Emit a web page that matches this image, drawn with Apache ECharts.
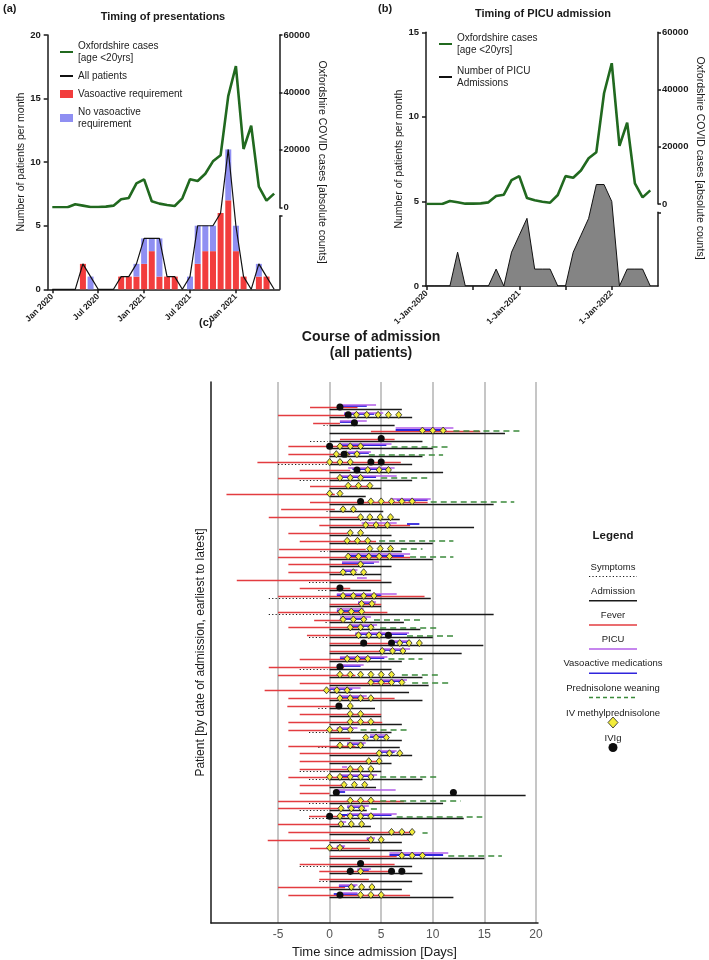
<!DOCTYPE html>
<html>
<head>
<meta charset="utf-8">
<title>Timing and course of admission</title>
<script src="https://cdn.jsdelivr.net/npm/echarts@6.0.0/dist/echarts.min.js"></script>
<style>
  html, body { margin: 0; padding: 0; background: #fff; }
  #chart { width: 709px; height: 960px; }
</style>
</head>
<body>
<div id="chart"></div>
<script>
const FONT = '"Liberation Sans", Arial, Helvetica, sans-serif';

// (a) and (b): one value per month, Jan 2020 .. Jun 2022
const months = ['2020-01', '2020-02', '2020-03', '2020-04', '2020-05', '2020-06', '2020-07', '2020-08', '2020-09', '2020-10',
  '2020-11', '2020-12', '2021-01', '2021-02', '2021-03', '2021-04', '2021-05', '2021-06', '2021-07', '2021-08',
  '2021-09', '2021-10', '2021-11', '2021-12', '2022-01', '2022-02', '2022-03', '2022-04', '2022-05', '2022-06'];
const oxfordshireCases = [0, 0, 0, 1040, 580, 120, 120, 230, 580, 2780, 3250, 8350, 9740, 2090, 1280, 810, 460, 3130, 9740, 9160, 11700, 16000, 18100, 38700, 49200, 20300, 28400, 7190, 2320, 4760];
const vasoactive =     [0, 0, 0, 0, 2, 0, 0, 0, 0, 1, 1, 1, 2, 3, 1, 1, 1, 0, 0, 2, 3, 3, 6, 7, 3, 1, 0, 1, 1, 0];
const noVasoactive =   [0, 0, 0, 0, 0, 1, 0, 0, 0, 0, 0, 1, 2, 1, 3, 0, 0, 0, 1, 3, 2, 2, 0, 4, 2, 0, 0, 1, 0, 0];
const allPatients =    [0, 0, 0, 0, 2, 1, 0, 0, 0, 1, 1, 2, 4, 4, 4, 1, 1, 0, 1, 5, 5, 5, 6, 11, 5, 1, 0, 2, 1, 0];
const picuAdmissions = [0, 0, 0, 0, 2, 0, 0, 0, 0, 1, 0, 2, 3, 4, 1, 1, 1, 0, 0, 2, 3, 4, 6, 6, 5, 0, 1, 1, 1, 0];
const monthTicks = [0, 6, 12, 18, 24];
const tickLabelsA = ['Jan 2020', 'Jul 2020', 'Jan 2021', 'Jul 2021', 'Jan 2021'];
const tickLabelsB = ['1-Jan-2020', '1-Jan-2021', '1-Jan-2022'];

// (c): one entry per patient, earliest admission first. days relative to admission
const dayTicks = [-5, 0, 5, 10, 15, 20];
const symptomStart = [
  null, null, -0.6, null, -1.9, null, null, -5.0, null, -2.9,
  null, null, null, -0.3, null, null, null, null, -0.9, null,
  null, null, -2.0, -1.1, -5.9, null, -5.9, -0.4, null, -2.0,
  null, null, null, -2.9, null, null, null, null, -1.1, null,
  null, -2.0, null, -1.1, null, null, -2.9, -2.0, null, null,
  -2.0, -2.9, -2.0, null, null, null, null, null, -2.9, null,
  -1.0, null, null
];
const fever = [
  [-1.9, 2.7], [-5.0, 1.5], [-1.6, 1.0], [4.0, 14.6], [1.0, 6.3], [-4.0, 2.8], [-4.0, 2.0], [-7.0, 6.9], [-2.9, 2.0], [-5.0, 1.0],
  [-1.9, 4.1], [-10.0, 0.5], [-1.9, 9.5], [-4.7, 0.5], [-5.9, 2.8], [-1.0, 7.8], [-4.0, 1.7], [-2.9, 4.5], [-4.9, 3.5], [-5.0, 7.8],
  [-4.0, 2.7], [-4.0, 1.0], [-9.0, 5.0], [-2.9, 2.0], [-5.0, 9.2], [0, 5.0], [-5.0, 5.6], [-1.5, 1.3], [-4.0, 2.7], [-2.2, 2.7],
  [0, 6.0], [0, 4.9], [-2.9, 3.8], [-5.9, 1.4], [-5.0, 2.5], [-2.9, 5.9], [-6.3, 0.1], [-4.0, 6.3], [-4.1, 0.7], [-2.9, 5.0],
  [-4.0, 5.1], [-4.0, 1.0], [0, 2.0], [-4.0, 2.5], [-2.9, 4.9], [-2.9, 4.5], [-2.9, 3.0], [-4.0, 2.0], [-2.9, 1.3], [-2.9, 0],
  [-5.0, 7.2], [-5.0, 1.0], [-2.0, 1.5], [-5.0, 1.0], [-4.0, 8.0], [-6.0, 4.0], [-1.9, 3.9], [0, 6.5], [-2.9, 6.3], [-1.0, 6.0],
  [-1.0, 3.8], [-5.0, 1.5], [-4.0, 7.8]
];
const admissionEnd = [
  7.0, 8.0, 6.3, 17.0, 9.0, 10.0, 9.0, 8.0, 11.0, 8.0,
  5.0, 3.5, 15.9, 5.2, 6.8, 14.0, 6.0, 10.0, 7.0, 10.0,
  6.0, 5.0, 6.0, 4.0, 9.8, 5.0, 15.9, 7.2, 8.8, 10.0,
  14.9, 12.8, 7.0, 6.0, 9.0, 9.6, 7.7, 9.0, 4.4, 5.0,
  7.0, 6.0, 7.0, 6.8, 8.0, 6.0, 5.0, 9.0, 4.5, 19.0,
  11.0, 3.6, 13.0, 4.0, 8.0, 7.0, 7.0, 15.0, 8.0, 9.0,
  8.0, 7.0, 12.0
];
const picuStay = [
  [1.0, 4.5], [1.4, 5.2], [1.0, 3.6], [6.4, 12.0], null, [0.9, 6.0], [1.8, 4.0], null, [1.8, 6.3], [1.0, 6.5],
  null, null, [5.9, 9.8], null, null, [3.1, 6.5], null, null, null, [1.7, 7.8],
  [1.2, 4.8], [1.2, 2.7], [2.65, 3.6], null, [0.7, 6.5], [2.75, 4.5], [0.7, 3.3], [1.0, 4.0], [2.0, 4.6], [2.5, 7.7],
  [6.0, 7.8], [4.9, 7.8], [1.0, 5.6], [0.7, 3.3], null, [3.8, 7.5], [0, 3.0], [1.0, 3.6], null, null,
  null, [0.7, 2.7], [3.9, 5.6], [1.7, 3.5], [4.9, 6.5], null, [1.2, 1.7], [1.0, 4.6], null, [0.7, 6.4],
  null, [1.7, 3.8], [1.7, 6.5], [1.0, 1.6], null, [3.6, 4.4], [0.7, 1.5], [5.8, 11.5], null, [2.7, 4.0],
  null, [0.9, 2.7], [1.0, 2.7]
];
const vasoactiveMeds = [
  [1.0, 3.6], [1.4, 4.3], [1.0, 2.7], [6.4, 11.3], null, [0.9, 5.5], [1.3, 3.8], null, [2.2, 5.6], [1.0, 4.5],
  null, null, [6.5, 9.5], null, null, [7.5, 8.7], null, null, null, [1.7, 7.2],
  [1.2, 4.3], [1.2, 2.3], null, null, [0.7, 5.0], [2.75, 4.1], [0.7, 3.0], [1.0, 3.6], [2.0, 4.3], [2.5, 7.5],
  [6.0, 7.6], [4.9, 7.3], [1.0, 5.3], [0.7, 3.0], null, [3.8, 7.2], [0, 2.2], [1.0, 3.3], null, null,
  null, [0.7, 2.0], [3.9, 5.4], [1.7, 3.3], [4.9, 6.3], null, null, [1.0, 4.3], null, [0.7, 1.5],
  null, [1.7, 3.4], [1.0, 6.0], null, null, [3.6, 4.2], [0.7, 1.4], [5.8, 11.0], null, [2.7, 3.8],
  null, [0.9, 2.5], [0.4, 2.7]
];
const prednisolone = [
  null, null, null, [12.0, 18.7], null, [6.0, 11.7], [3.8, 11.0], null, null, [5.0, 9.8],
  null, null, [9.8, 17.9], null, null, null, null, [4.8, 12.0], [6.9, 9.0], [7.8, 12.0],
  null, null, null, null, null, null, null, [4.3, 8.8], [4.9, 10.6], [7.5, 12.0],
  null, null, [5.7, 9.0], null, [7.0, 10.6], [8.0, 11.6], null, null, null, null,
  null, [3.0, 7.7], null, null, null, null, null, [4.9, 10.6], null, null,
  [4.9, 12.7], [4.0, 4.6], [6.5, 14.8], null, [9.0, 9.5], null, null, [11.5, 16.7], null, null,
  null, null, null
];
const methylpred = [
  [], [2.6, 3.6, 4.7, 5.7, 6.7], [], [9, 10, 11], [], [1, 2, 3], [0.65, 1.6, 2.65], [0, 1, 2], [3.7, 4.8, 5.7], [1, 2, 3],
  [1.8, 2.8, 3.9], [0, 1], [4, 5, 6, 7, 8], [1.3, 2.3], [3, 3.9, 4.9, 5.9], [3.5, 4.5, 5.6], [2, 3], [1.7, 2.7, 3.7], [3.9, 4.9, 5.9], [1.8, 2.8, 3.8, 4.8, 5.8],
  [3], [1.3, 2.3, 3.3], [], [], [1.3, 2.3, 3.3, 4.3], [3.1, 4.1], [1.1, 2.1, 3.1], [1.3, 2.3, 3.3], [2, 3, 4], [2.8, 3.8, 4.8],
  [6.8, 7.7, 8.7], [5.1, 6.1, 7.1], [1.7, 2.7, 3.7], [], [1, 2, 3, 4, 5, 6], [4, 5, 6, 7], [-0.3, 0.7, 1.7], [1, 2, 3, 4], [2], [2, 3],
  [2, 3, 4], [0, 1, 2], [3.5, 4.5, 5.5], [1, 2, 3], [4.8, 5.8, 6.8], [3.8, 4.8], [2, 3, 4], [0, 1, 2, 3, 4], [1.4, 2.4, 3.4], [],
  [2, 3, 4], [1.1, 2.1, 3.1], [1, 2, 3, 4], [1.1, 2.1, 3.1], [6, 7, 8], [4, 5], [0, 1], [7, 8, 9], [], [2, 3],
  [], [2.1, 3.1, 4.1], [3, 4, 5]
];
const ivig = [
  [1.0], [1.8], [2.4], [], [5.0], [0], [1.4], [4, 5], [2.65], [],
  [], [], [3], [], [], [], [], [], [], [],
  [], [], [], [1], [], [], [], [], [], [5.7],
  [3.3, 6.0], [], [], [1], [], [], [], [], [0.9], [],
  [], [], [], [], [], [], [], [], [], [0.65, 12],
  [], [], [0], [], [], [], [], [], [3], [2, 6, 7],
  [], [], [1]
];

const RED = '#e33c40';
const PURPLE = '#b35ee8';
const BLUE = '#3024dc';
const GREEN_DASH = '#3b8a3b';
const YELLOW = '#f2ec3a';
const CASE_GREEN = '#21691f';

const CASES = 'Oxfordshire cases\n[age <20yrs]';
const NO_VASO = 'No vasoactive\nrequirement';
const PICU_NAME = 'Number of PICU\nAdmissions';

const pairs = arr => arr.map((v, i) => [i, v]);

function segments(ranges, offset) {
  const out = [];
  ranges.forEach((r, i) => {
    if (r) out.push({ coords: [[r[0], i + offset], [r[1], i + offset]] });
  });
  return out;
}
function points(lists, offset) {
  const out = [];
  lists.forEach((days, i) => days.forEach(d => out.push([d, i + offset])));
  return out;
}

const boldTick = { fontFamily: FONT, fontSize: 9.5, fontWeight: 'bold', color: '#1a1a1a' };
const boldTickX = { fontFamily: FONT, fontSize: 8.5, fontWeight: 'bold', color: '#1a1a1a' };
const axisLineBlack = { show: true, onZero: false, lineStyle: { color: '#1a1a1a', width: 1.5 } };
const tickBlack = { color: '#1a1a1a', width: 1.5 };
const nameStyle = { fontFamily: FONT, fontSize: 10.5, color: '#1a1a1a' };

function hiddenX(grid, min, max) {
  return { type: 'value', gridIndex: grid, min: min, max: max, show: false };
}
function casesAxis(grid) {
  return {
    type: 'value', gridIndex: grid, position: 'right', min: 0, max: 60000, interval: 20000,
    axisLine: axisLineBlack,
    axisTick: { show: true, length: 3, lineStyle: tickBlack },
    axisLabel: Object.assign({ margin: 4, formatter: v => String(v) }, boldTick),
    splitLine: { show: false }
  };
}
function brokenAxis(grid) {
  return {
    type: 'value', gridIndex: grid, position: 'right', min: 0, max: 1,
    axisLine: axisLineBlack,
    axisTick: { show: true, customValues: [1], length: 3, lineStyle: tickBlack },
    axisLabel: { show: false },
    splitLine: { show: false }
  };
}
function patientsAxis(grid, max, gap) {
  return {
    type: 'value', gridIndex: grid, min: 0, max: max, interval: 5,
    axisLine: axisLineBlack,
    axisTick: { show: true, length: 4, lineStyle: tickBlack },
    axisLabel: Object.assign({ margin: 7 }, boldTick),
    splitLine: { show: false },
    name: 'Number of patients per month', nameLocation: 'middle', nameGap: gap,
    nameTextStyle: nameStyle
  };
}

function segSeries(name, data, color, width, type, z) {
  return {
    name: name, type: 'lines', coordinateSystem: 'cartesian2d', xAxisIndex: 6, yAxisIndex: 6,
    polyline: false, silent: true, z: z,
    lineStyle: { color: color, width: width, type: type, opacity: 1, cap: 'butt' },
    data: data
  };
}

const grids = [
  { left: 47.7, top: 35, width: 231.8, height: 254.3 },
  { left: 47.7, top: 35, width: 231.8, height: 172.3 },
  { left: 47.7, top: 216, width: 231.8, height: 73.3 },
  { left: 426, top: 32.3, width: 232, height: 253.7 },
  { left: 426, top: 32.3, width: 232, height: 171.7 },
  { left: 426, top: 212.3, width: 232, height: 73.7 },
  { left: 211, top: 382, width: 327, height: 541 },
  // category band grid for the stacked bars of (a): one band per month
  { left: 48.5, top: 35, width: 229.5, height: 254.3 }
].map(g => Object.assign({ containLabel: false, outerBoundsMode: 'none' }, g));

const legendText = { fontFamily: FONT, fontSize: 10, lineHeight: 12, color: '#222' };
const noMarker = { color: 'rgba(0,0,0,0)', borderColor: 'rgba(0,0,0,0)', borderWidth: 0 };

// legend of panel (c): text above, sample below
const legendC = [
  { label: 'Symptoms', color: '#1a1a1a', width: 1.2, dash: [1.2, 2.2] },
  { label: 'Admission', color: '#1a1a1a', width: 1.5, dash: null },
  { label: 'Fever', color: RED, width: 1.5, dash: null },
  { label: 'PICU', color: PURPLE, width: 1.5, dash: null },
  { label: 'Vasoactive medications', color: BLUE, width: 1.5, dash: null },
  { label: 'Prednisolone weaning', color: GREEN_DASH, width: 1.5, dash: [4, 3] }
];
const graphics = [];
function addText(text, x, y, size, weight, rot) {
  graphics.push({
    type: 'text', x: x, y: y, rotation: rot || 0, silent: true,
    style: { text: text, fontFamily: FONT, fontSize: size, fontWeight: weight || 'normal', fill: '#1a1a1a', align: 'center', verticalAlign: 'middle' }
  });
}
addText('Legend', 613, 536, 11.5, 'bold');
legendC.forEach((it, k) => {
  const ty = 567 + 24.2 * k;
  addText(it.label, 613, ty, 9.5);
  graphics.push({
    type: 'line', silent: true,
    shape: { x1: 589, y1: ty + 9.5, x2: 637, y2: ty + 9.5 },
    style: { stroke: it.color, lineWidth: it.width, lineDash: it.dash }
  });
});
addText('IV methylprednisolone', 613, 713, 9.5);
graphics.push({ type: 'polygon', silent: true, shape: { points: [[613, 717], [618, 722.5], [613, 728], [608, 722.5]] }, style: { fill: YELLOW, stroke: '#222', lineWidth: 0.8 } });
addText('IVIg', 613, 738, 9.5);
graphics.push({ type: 'circle', silent: true, shape: { cx: 613, cy: 747.5, r: 4.5 }, style: { fill: '#0d0d0d' } });
addText('Oxfordshire COVID cases [absolute counts]', 322, 162, 10.5, 'normal', -Math.PI / 2);
addText('Oxfordshire COVID cases [absolute counts]', 700, 158, 10.5, 'normal', -Math.PI / 2);

const titleBold = (size) => ({ fontFamily: FONT, fontSize: size, fontWeight: 'bold', color: '#1a1a1a' });

const option = {
  animation: false,
  backgroundColor: '#fff',
  title: [
    { text: '(a)', left: 3, top: 3, padding: 0, textStyle: titleBold(11) },
    { text: 'Timing of presentations', left: 163, top: 11, padding: 0, textAlign: 'center', textStyle: titleBold(11) },
    { text: '(b)', left: 378, top: 3, padding: 0, textStyle: titleBold(11) },
    { text: 'Timing of PICU admission', left: 543, top: 8, padding: 0, textAlign: 'center', textStyle: titleBold(11) },
    { text: '(c)', left: 199, top: 317, padding: 0, textStyle: titleBold(11) },
    { text: 'Course of admission\n(all patients)', left: 371, top: 329, padding: 0, textAlign: 'center',
      textStyle: Object.assign({ lineHeight: 16 }, titleBold(14)) }
  ],
  legend: [
    {
      left: 59, top: 40, orient: 'vertical', itemWidth: 13, itemHeight: 8, itemGap: 6, padding: 0,
      selectedMode: false, textStyle: legendText,
      data: [
        { name: CASES, itemStyle: noMarker },
        { name: 'All patients', itemStyle: noMarker },
        { name: 'Vasoactive requirement', icon: 'rect' },
        { name: NO_VASO, icon: 'rect' }
      ]
    },
    {
      left: 438, top: 32, orient: 'vertical', itemWidth: 13, itemHeight: 8, itemGap: 9, padding: 0,
      selectedMode: false, textStyle: legendText,
      data: [{ name: CASES, itemStyle: noMarker }, { name: PICU_NAME, itemStyle: noMarker }]
    }
  ],
  grid: grids,
  xAxis: [
    {
      type: 'value', gridIndex: 0, min: -0.6, max: 29.7,
      axisLine: axisLineBlack,
      axisTick: { show: true, customValues: monthTicks, length: 4, lineStyle: tickBlack },
      axisLabel: Object.assign({ customValues: monthTicks, rotate: 45, margin: 6, formatter: v => tickLabelsA[v / 6] }, boldTickX),
      splitLine: { show: false }
    },
    hiddenX(1, -0.6, 29.7),
    hiddenX(2, -0.6, 29.7),
    {
      type: 'value', gridIndex: 3, min: -0.1, max: 30,
      axisLine: axisLineBlack,
      axisTick: { show: true, customValues: monthTicks, length: 4, lineStyle: tickBlack },
      axisLabel: Object.assign({ customValues: [0, 12, 24], rotate: 45, margin: 6, formatter: v => tickLabelsB[v / 12] }, boldTickX),
      splitLine: { show: false }
    },
    hiddenX(4, -0.1, 30),
    hiddenX(5, -0.1, 30),
    {
      type: 'value', gridIndex: 6, min: -11.5, max: 20.2,
      axisLine: axisLineBlack,
      axisTick: { show: false, customValues: dayTicks },
      axisLabel: { customValues: dayTicks, margin: 6, fontFamily: FONT, fontSize: 12, color: '#555' },
      splitLine: { show: true, lineStyle: { color: '#c6c6c6', width: 2 } },
      name: 'Time since admission [Days]', nameLocation: 'middle', nameGap: 17,
      nameTextStyle: { fontFamily: FONT, fontSize: 13, color: '#1a1a1a' }
    },
    { type: 'category', gridIndex: 7, data: months, boundaryGap: true, show: false }
  ],
  yAxis: [
    patientsAxis(0, 20, 16),
    casesAxis(1),
    brokenAxis(2),
    patientsAxis(3, 15, 14),
    casesAxis(4),
    brokenAxis(5),
    {
      type: 'value', gridIndex: 6, min: -3.47, max: 65.27, inverse: true,
      axisLine: axisLineBlack, axisTick: { show: false }, axisLabel: { show: false }, splitLine: { show: false },
      name: 'Patient [by date of admission, earliest to latest]', nameLocation: 'middle', nameGap: 4.5,
      nameTextStyle: { fontFamily: FONT, fontSize: 12, color: '#1a1a1a' }
    },
    { type: 'value', gridIndex: 7, min: 0, max: 20, show: false }
  ],
  graphic: graphics,
  series: [
    // (a)
    { name: 'Vasoactive requirement', type: 'bar', xAxisIndex: 7, yAxisIndex: 7, stack: 'pres', barWidth: 6,
      itemStyle: { color: '#f23d3d' }, data: vasoactive, silent: true, z: 2 },
    { name: NO_VASO, type: 'bar', xAxisIndex: 7, yAxisIndex: 7, stack: 'pres', barWidth: 6,
      itemStyle: { color: '#8f8ff2' }, data: noVasoactive, silent: true, z: 2 },
    { name: 'All patients', type: 'line', xAxisIndex: 0, yAxisIndex: 0, symbol: 'none', z: 4,
      lineStyle: { color: '#111', width: 1.2 }, itemStyle: { color: '#111' }, data: pairs(allPatients), silent: true },
    { name: CASES, type: 'line', xAxisIndex: 1, yAxisIndex: 1, symbol: 'none', z: 5,
      lineStyle: { color: CASE_GREEN, width: 2.6 }, itemStyle: { color: CASE_GREEN }, data: pairs(oxfordshireCases), silent: true },
    // (b)
    { name: PICU_NAME, type: 'line', xAxisIndex: 3, yAxisIndex: 3, symbol: 'none',
      lineStyle: { color: '#111', width: 1 }, itemStyle: { color: '#111' },
      areaStyle: { color: '#848484', opacity: 1 }, data: pairs(picuAdmissions), silent: true },
    { name: CASES, type: 'line', xAxisIndex: 4, yAxisIndex: 4, symbol: 'none', z: 5,
      lineStyle: { color: CASE_GREEN, width: 2.6 }, itemStyle: { color: CASE_GREEN }, data: pairs(oxfordshireCases), silent: true },
    // (c)
    segSeries('Symptoms', segments(symptomStart.map(s => s == null ? null : [s, -0.2]), 0), '#1a1a1a', 1.2, [1.2, 2.2], 3),
    segSeries('Admission', segments(admissionEnd.map(e => [0, e]), 0), '#1a1a1a', 1.4, 'solid', 4),
    segSeries('Fever', segments(fever, -0.25), RED, 1.4, 'solid', 5),
    segSeries('Prednisolone weaning', segments(prednisolone, -0.25), GREEN_DASH, 1.6, [6, 4], 5),
    segSeries('Vasoactive medications', segments(vasoactiveMeds, -0.45), BLUE, 1.8, 'solid', 6),
    segSeries('PICU', segments(picuStay, -0.6), PURPLE, 1.6, 'solid', 7),
    { name: 'IV methylprednisolone', type: 'scatter', xAxisIndex: 6, yAxisIndex: 6, symbol: 'diamond', symbolSize: [6, 7], z: 8,
      itemStyle: { color: YELLOW, borderColor: '#222', borderWidth: 0.8, opacity: 1 }, data: points(methylpred, -0.3), silent: true },
    { name: 'IVIg', type: 'scatter', xAxisIndex: 6, yAxisIndex: 6, symbol: 'circle', symbolSize: 7, z: 9,
      itemStyle: { color: '#0d0d0d', opacity: 1 }, data: points(ivig, -0.3), silent: true }
  ]
};

const chart = echarts.init(document.getElementById('chart'));
chart.setOption(option);
</script>
</body>
</html>
